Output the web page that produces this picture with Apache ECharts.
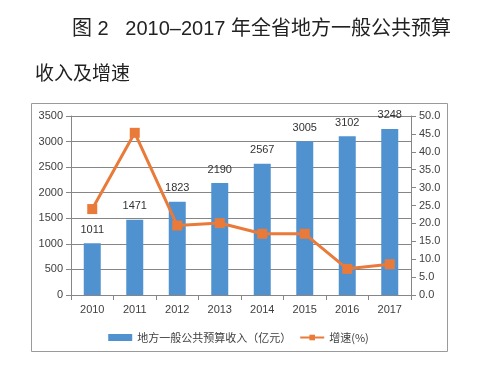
<!DOCTYPE html>
<html><head><meta charset="utf-8">
<script src="https://cdn.jsdelivr.net/npm/echarts@6/dist/echarts.min.js"></script>
<style>html,body{margin:0;padding:0;background:#fff}#c{width:477px;height:374px}</style>
</head><body><div id="c"></div>
<script>
var categories = ['2010','2011','2012','2013','2014','2015','2016','2017'];
var revenue = [1011, 1471, 1823, 2190, 2567, 3005, 3102, 3248];
var growth = [24.0, 45.3, 19.4, 20.1, 17.1, 17.1, 7.3, 8.6];
var leftTicks = {min: 0, max: 3500, interval: 500};
var rightTicks = {min: 0, max: 50, interval: 5};

var chart = echarts.init(document.getElementById('c'));
var axisCol = '#868686';
var txtCol = '#404040';
var cjk = '"Noto Sans CJK SC", "Noto Sans", sans-serif';
var titleFont = '"Liberation Sans", "Noto Sans CJK SC", sans-serif';
chart.setOption({
  animation: false,
  title: [
    {text: '图 2   2010–2017 年全省地方一般公共预算', left: 67, top: 14,
     textStyle: {fontFamily: titleFont, fontSize: 20, fontWeight: 'normal', color: '#222'}},
    {text: '收入及增速', left: 30, top: 58,
     textStyle: {fontFamily: cjk, fontSize: 19, fontWeight: 'normal', color: '#222'}}
  ],
  graphic: [{type: 'rect', shape: {x: 31.5, y: 103.5, width: 416, height: 248},
    style: {fill: 'none', stroke: '#9a9a9a', lineWidth: 1}}],
  grid: {left: 71, right: 66, top: 116, bottom: 79},
  legend: {
    left: 'center', top: 327, itemGap: 8,
    textStyle: {fontFamily: cjk, fontSize: 11, color: txtCol},
    data: [{name: '地方一般公共预算收入（亿元）', icon: 'rect'},
           {name: '增速(%)'}],
    itemWidth: 24, itemHeight: 7
  },
  xAxis: {
    type: 'category', data: categories,
    axisLine: {lineStyle: {color: axisCol}},
    axisTick: {show: true, alignWithLabel: false, lineStyle: {color: axisCol}},
    axisLabel: {color: txtCol, fontSize: 11, fontFamily: 'Liberation Sans, sans-serif', margin: 9}
  },
  yAxis: [
    {type: 'value', min: leftTicks.min, max: leftTicks.max, interval: leftTicks.interval,
     axisLine: {show: true, lineStyle: {color: axisCol}},
     axisTick: {show: true, lineStyle: {color: axisCol}},
     splitLine: {lineStyle: {color: axisCol}},
     axisLabel: {color: txtCol, fontSize: 11, fontFamily: 'Liberation Sans, sans-serif',
       formatter: function(v){ return String(v); }}},
    {type: 'value', min: rightTicks.min, max: rightTicks.max, interval: rightTicks.interval,
     position: 'right',
     axisLine: {show: true, lineStyle: {color: axisCol}},
     axisTick: {show: true, lineStyle: {color: axisCol}},
     splitLine: {show: false},
     axisLabel: {color: txtCol, fontSize: 11, fontFamily: 'Liberation Sans, sans-serif',
       formatter: function(v){ return v.toFixed(1); }}}
  ],
  series: [
    {name: '地方一般公共预算收入（亿元）', type: 'bar', data: revenue, barWidth: 17,
     itemStyle: {color: '#5092CF'},
     label: {show: true, position: 'top', distance: 8, color: '#333', fontSize: 11,
       fontFamily: 'Liberation Sans, sans-serif'}},
    {name: '增速(%)', type: 'line', yAxisIndex: 1, data: growth,
     symbol: 'rect', symbolSize: 10,
     lineStyle: {color: '#E97A3A', width: 3},
     itemStyle: {color: '#E97A3A'}}
  ]
});
</script></body></html>
